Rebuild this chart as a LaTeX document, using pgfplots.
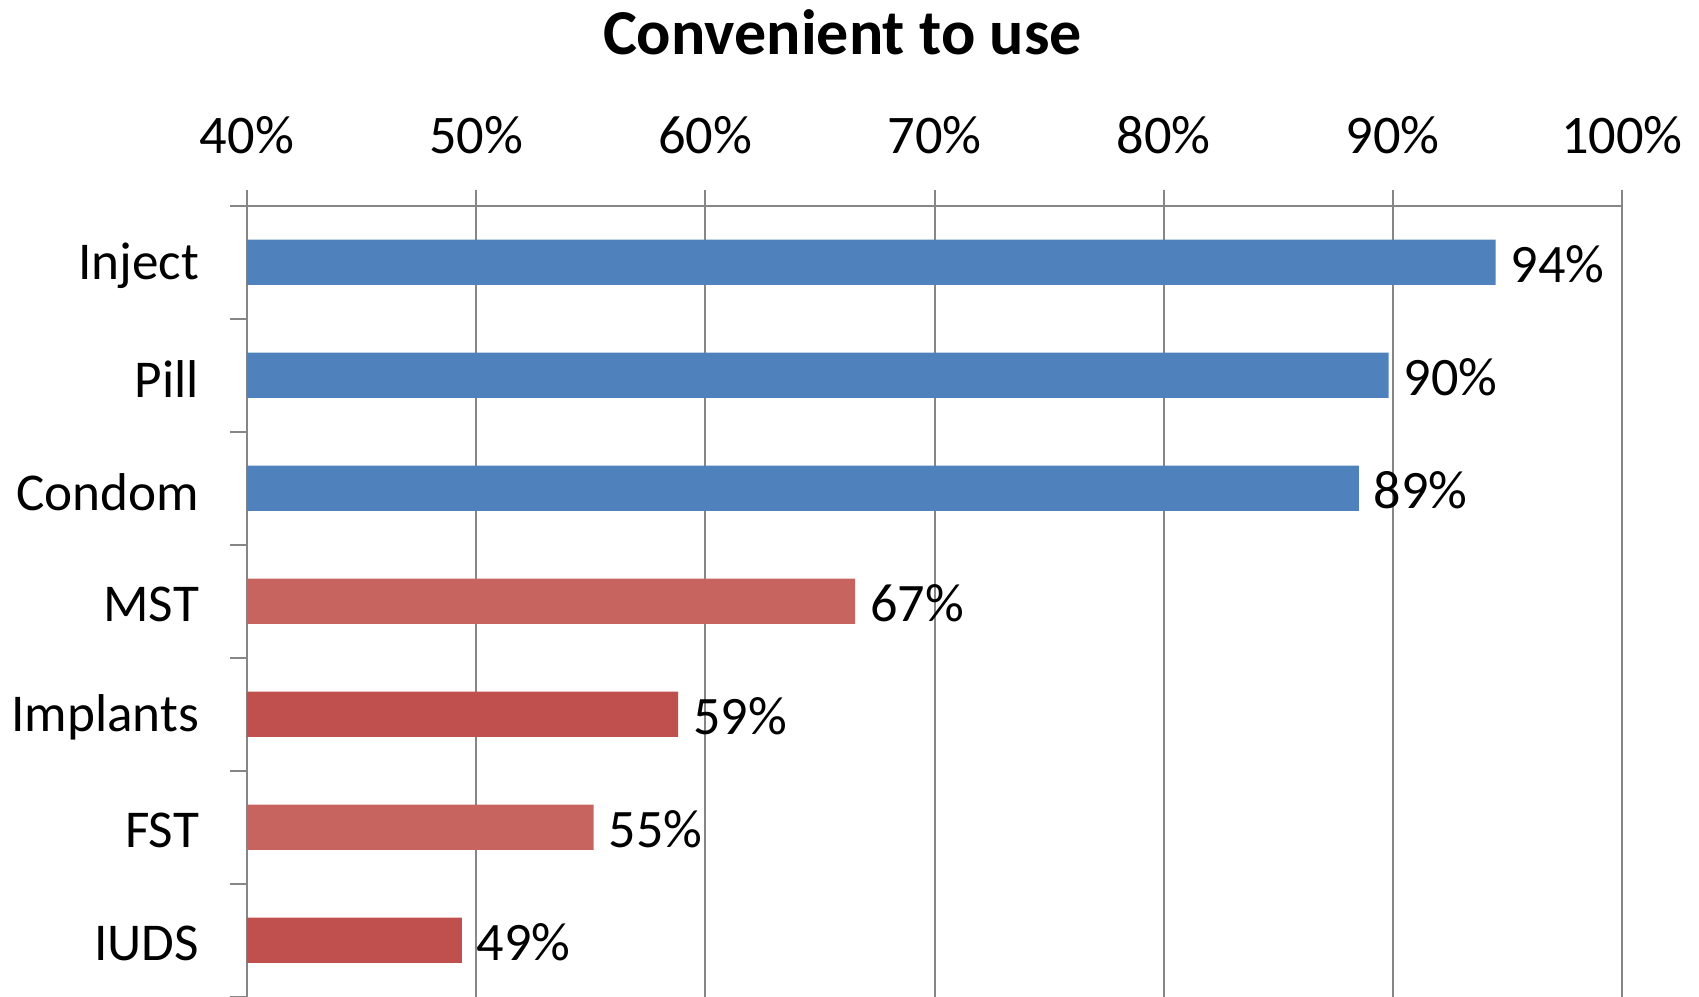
\documentclass[border=0pt]{standalone}
\usepackage{pgfplots}
\pgfplotsset{compat=1.18}
\usepackage{fontspec}
\setmainfont{Carlito}
\definecolor{cblue}{HTML}{4F81BD}
\definecolor{cred}{HTML}{C0504D}
\definecolor{clred}{HTML}{C8645F}
\definecolor{cgrid}{RGB}{134,134,134}
\begin{document}
\begin{tikzpicture}
\begin{axis}[
  scale only axis,
  width=687.5pt, height=395.5pt,
  xmin=40, xmax=100,
  ymin=-0.5, ymax=6.5,
  axis x line*=top,
  axis y line*=left,
  axis line style={cgrid, line width=1pt},
  xtick={40,50,60,70,80,90,100},
  xticklabels={40\%,50\%,60\%,70\%,80\%,90\%,100\%},
  xmajorgrids,
  grid style={cgrid, line width=1pt},
  tick align=outside,
  major tick length=8pt,
  minor tick length=8.5pt,
  tick style={cgrid, line width=1pt},
  ytick={0,1,2,3,4,5,6},
  yticklabels={IUDS,FST,Implants,MST,Condom,Pill,Inject},
  minor ytick={-0.5,0.5,1.5,2.5,3.5,4.5,5.5,6.5},
  major y tick style={draw=none},
  minor y tick style={cgrid, line width=1pt},
  x tick label style={font=\fontsize{27.2}{31}\selectfont, anchor=base, yshift=18.2pt},
  y tick label style={font=\fontsize{26.6}{31}\selectfont, anchor=east, inner sep=0pt, xshift=-15.8pt, yshift=-1.8pt},
  title={\textbf{Convenient to use}},
  title style={at={(0.4331,1)}, anchor=base, yshift=69.5pt, font=\fontsize{32}{37}\selectfont},
  xbar, bar width=0.4, bar shift=0,
  point meta=explicit symbolic,
  nodes near coords,
  every node near coord/.append style={font=\fontsize{27.1}{31}\selectfont, anchor=west, inner sep=0pt, xshift=7.3pt, yshift=-0.8pt, text=black},
]
\addplot[fill=cblue, draw=none] coordinates {(94.49,6) [94\%] (89.82,5) [90\%] (88.52,4) [89\%]};
\addplot[fill=clred, draw=none] coordinates {(66.54,3) [67\%] (55.13,1) [55\%]};
\addplot[fill=cred, draw=none] coordinates {(58.81,2) [59\%] (49.38,0) [49\%]};
\end{axis}
\pgfresetboundingbox
\path[use as bounding box] ([xshift=-123.5pt]current axis.south west) rectangle ([xshift=38.5pt,yshift=102.85pt]current axis.north east);
\end{tikzpicture}
\end{document}
